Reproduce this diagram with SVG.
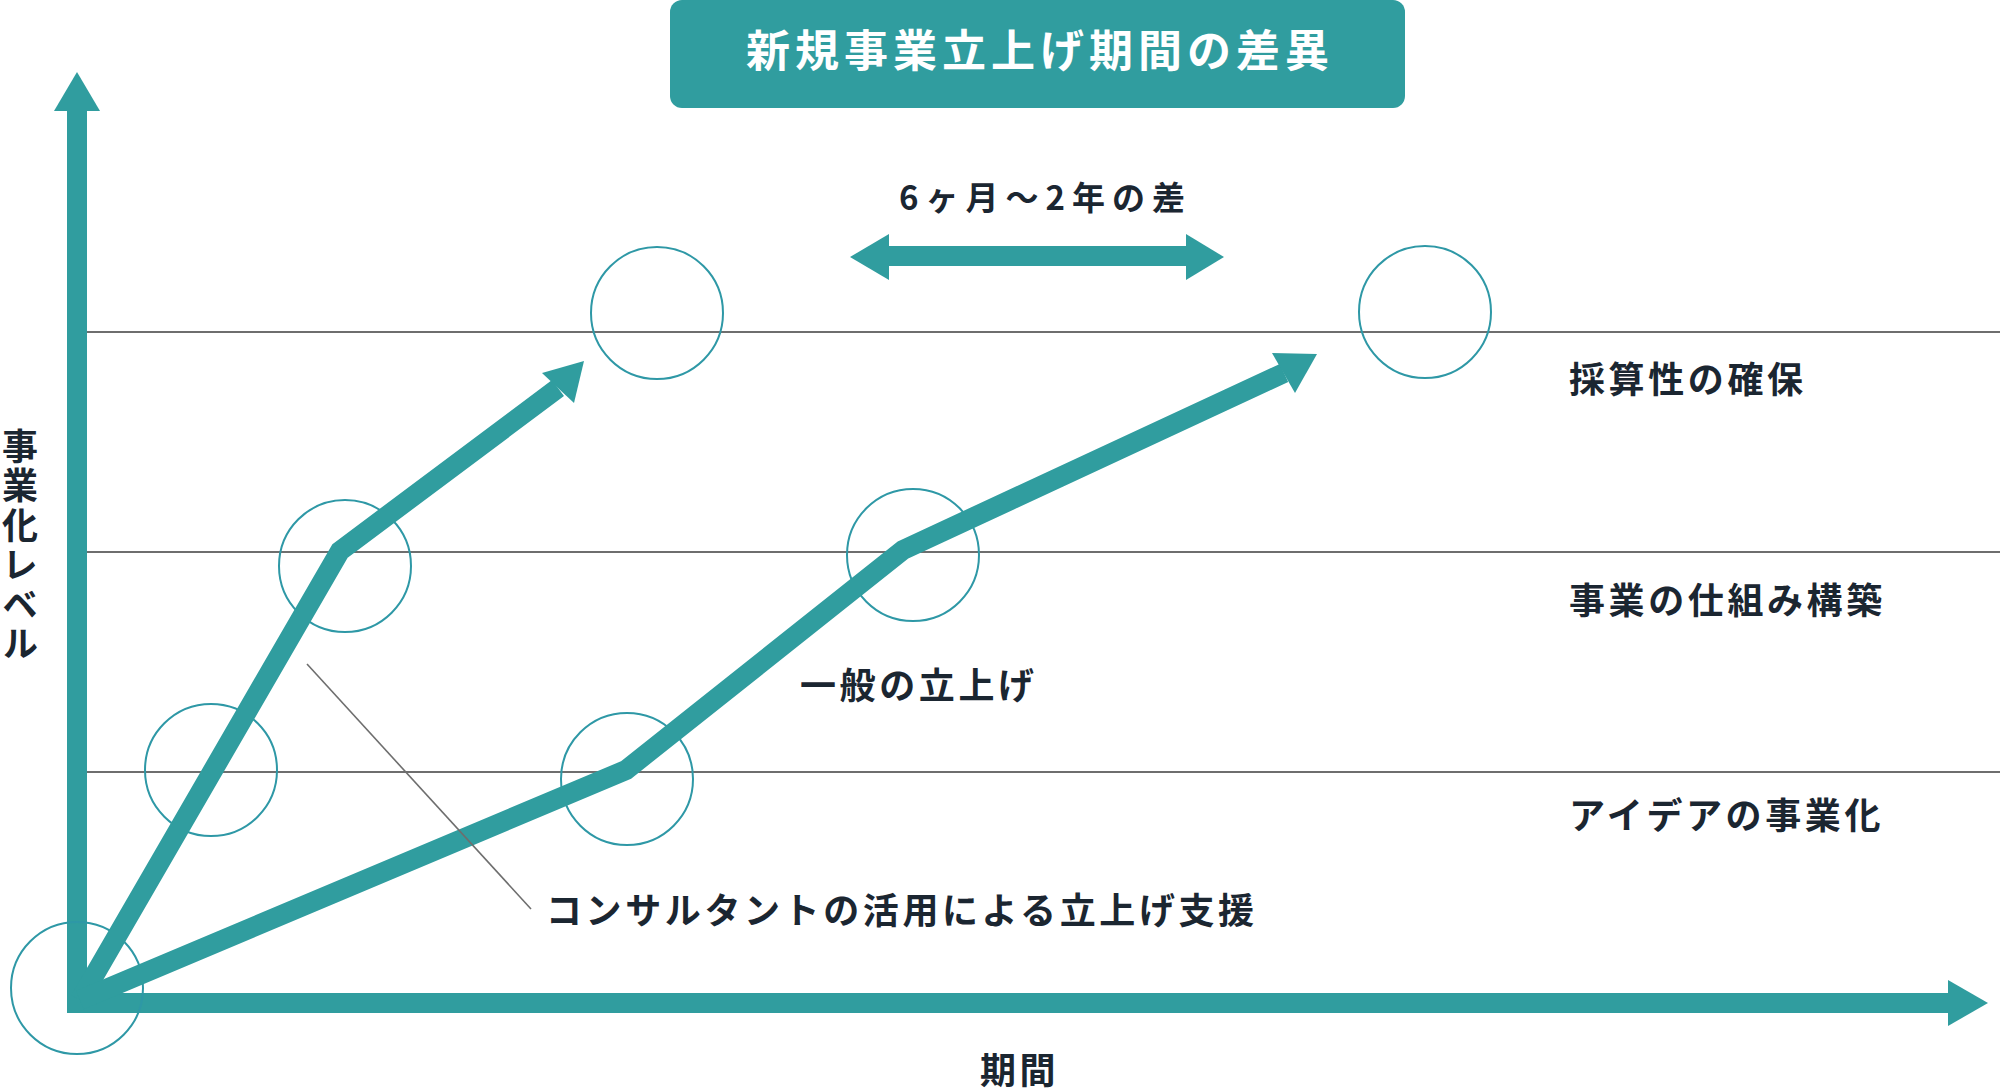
<svg xmlns="http://www.w3.org/2000/svg" width="2000" height="1090" viewBox="0 0 2000 1090">
<style>
.t{font-family:"Noto Sans CJK JP","Noto Sans",sans-serif;font-weight:700;fill:#1b2631}
.lbl{font-size:36px;letter-spacing:3.6px}
.grid{stroke:#6e6e6e;stroke-width:2;fill:none}
.ring{stroke:#2e98a6;stroke-width:2;fill:none}
.thick{stroke:#309d9f;stroke-width:20;fill:none;stroke-linejoin:miter;stroke-miterlimit:10}
.head{fill:#309d9f}
</style>
<rect width="2000" height="1090" fill="#ffffff"/>
<g id="gridlines">
<line class="grid" x1="87" y1="332" x2="2000" y2="332"/>
<line class="grid" x1="87" y1="552" x2="2000" y2="552"/>
<line class="grid" x1="87" y1="772" x2="2000" y2="772"/>
</g>
<g id="title">
<rect x="670" y="0" width="735" height="108" rx="12" fill="#309d9f"/>
<text class="t" x="746" y="67" font-size="44" letter-spacing="5" style="fill:#ffffff">新規事業立上げ期間の差異</text>
</g>
<g id="axes">
<rect x="67" y="111" width="20" height="902" fill="#309d9f"/>
<polygon class="head" points="54,111 77,72 100,111"/>
<rect x="67" y="993" width="1881" height="20" fill="#309d9f"/>
<polygon class="head" points="1948,980 1988,1003 1948,1026"/>
</g>
<g id="circles">
<circle id="c-origin" class="ring" cx="77" cy="988" r="66"/>
<circle id="c-fast1" class="ring" cx="211" cy="770" r="66"/>
<circle id="c-fast2" class="ring" cx="345" cy="566" r="66"/>
<circle id="c-fast3" class="ring" cx="657" cy="313" r="66"/>
<circle id="c-slow1" class="ring" cx="627" cy="779" r="66"/>
<circle id="c-slow2" class="ring" cx="913" cy="555" r="66"/>
<circle id="c-slow3" class="ring" cx="1425" cy="312" r="66"/>
</g>
<g id="connectors">
<polyline class="thick" points="80,1000 340,551 558,388"/>
<polygon class="head" points="542,373 584,361 574,403"/>
<polyline class="thick" points="80,1000 626,770 903,550 1284,373"/>
<polygon class="head" points="1272,353 1317,354 1295,393"/>
<line x1="307" y1="664" x2="531" y2="909" stroke="#6e6e6e" stroke-width="1.6"/>
<rect x="889" y="246" width="297" height="20" fill="#309d9f"/>
<polygon class="head" points="889,234 850,257 889,280"/>
<polygon class="head" points="1186,234 1224,257 1186,280"/>
</g>
<g id="labels">
<text class="t" x="899" y="210" font-size="33" letter-spacing="7">6ヶ月〜2年の差</text>
<text class="t lbl" x="1569" y="393">採算性の確保</text>
<text class="t lbl" x="1569" y="614">事業の仕組み構築</text>
<text class="t lbl" x="1569" y="829">アイデアの事業化</text>
<text class="t lbl" x="800" y="699">一般の立上げ</text>
<text class="t lbl" x="546" y="924">コンサルタントの活用による立上げ支援</text>
<text class="t lbl" x="980" y="1084">期間</text>
<text class="t" x="20" y="428" font-size="36" letter-spacing="3.5" style="writing-mode:vertical-rl">事業化レベル</text>
</g>
</svg>
